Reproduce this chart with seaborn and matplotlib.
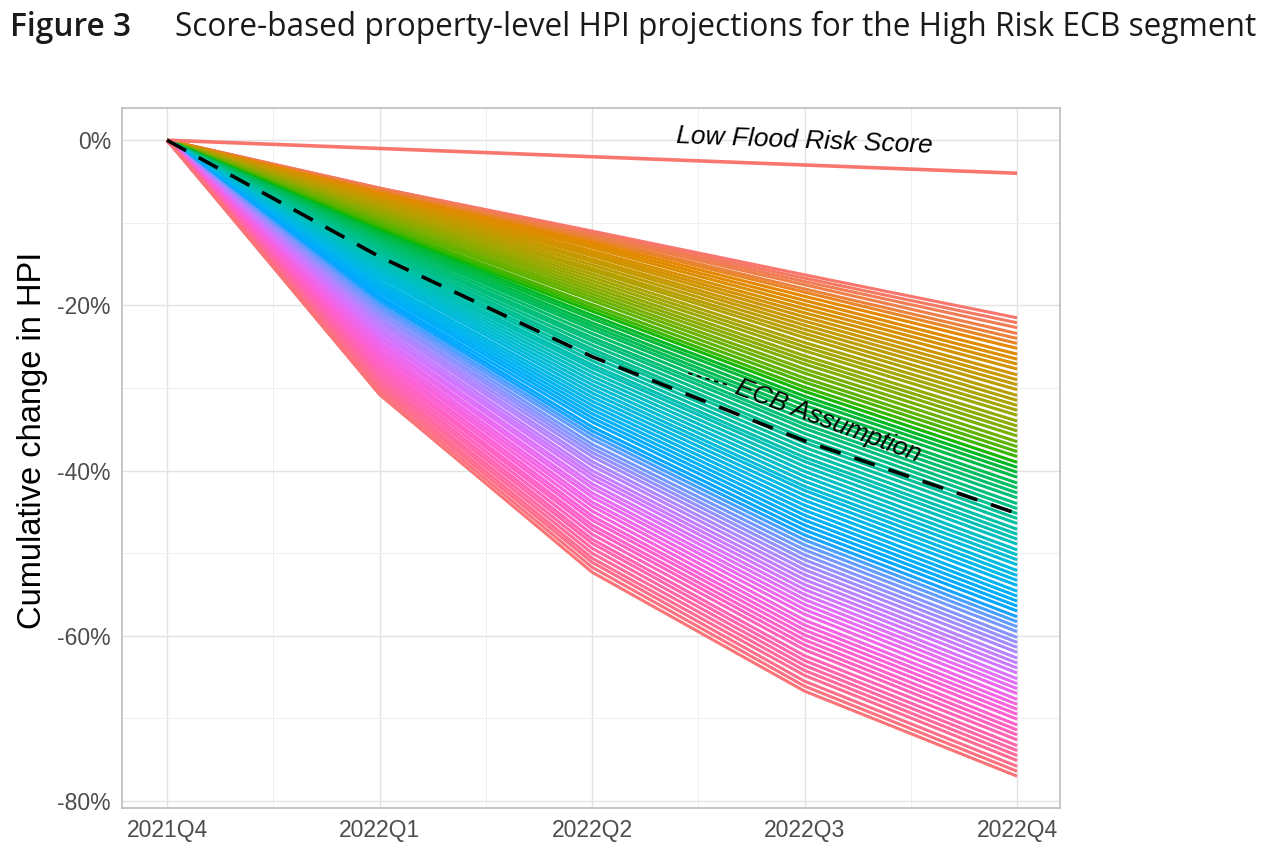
import numpy as np
import pandas as pd
import matplotlib
matplotlib.use("Agg")
import matplotlib.pyplot as plt
import seaborn as sns

# ---------------- data ----------------
quarters = ["2021Q4", "2022Q1", "2022Q2", "2022Q3", "2022Q4"]
y_ticks = [0, -20, -40, -60, -80]
y_tick_labels = ["0%", "-20%", "-40%", "-60%", "-80%"]

low_flood = [0.0, -1.0, -2.0, -3.0, -4.0]
ecb_assumption = [0.0, -14.1, -26.2, -36.4, -45.2]

# score-based projections (one value per score line, ordered from lowest to highest risk score)
q0_value = 0.0
q1_values = [-5.8, -5.8, -5.9, -6.0, -6.1, -6.2, -6.4, -6.5, -6.7, -6.8,
             -7.0, -7.1, -7.3, -7.5, -7.7, -7.9, -8.1, -8.3, -8.5, -8.7,
             -8.9, -9.1, -9.3, -9.6, -9.8, -10.0, -10.3, -10.5, -10.8, -11.0,
             -11.3, -11.5, -11.8, -12.0, -12.3, -12.6, -12.8, -13.1, -13.4, -13.7,
             -14.0, -14.2, -14.5, -14.8, -15.1, -15.4, -15.7, -16.0, -16.3, -16.6,
             -17.0, -17.3, -17.6, -17.9, -18.2, -18.5, -18.9, -19.2, -19.5, -19.9,
             -20.2, -20.5, -20.9, -21.2, -21.6, -21.9, -22.2, -22.6, -23.0, -23.3,
             -23.7, -24.0, -24.4, -24.7, -25.1, -25.5, -25.8, -26.2, -26.6, -27.0,
             -27.3, -27.7, -28.1, -28.5, -28.9, -29.2, -29.6, -30.0, -30.4, -30.8]
q2_values = [-11.0, -11.2, -11.4, -11.6, -11.9, -12.1, -12.4, -12.7, -13.0, -13.4,
             -13.7, -14.0, -14.4, -14.7, -15.1, -15.5, -15.8, -16.2, -16.6, -17.0,
             -17.4, -17.8, -18.2, -18.6, -19.0, -19.4, -19.9, -20.3, -20.7, -21.2,
             -21.6, -22.1, -22.5, -22.9, -23.4, -23.9, -24.3, -24.8, -25.3, -25.7,
             -26.2, -26.7, -27.2, -27.6, -28.1, -28.6, -29.1, -29.6, -30.1, -30.6,
             -31.1, -31.6, -32.1, -32.6, -33.1, -33.6, -34.1, -34.7, -35.2, -35.7,
             -36.2, -36.8, -37.3, -37.8, -38.3, -38.9, -39.4, -40.0, -40.5, -41.0,
             -41.6, -42.1, -42.7, -43.2, -43.8, -44.3, -44.9, -45.5, -46.0, -46.6,
             -47.1, -47.7, -48.3, -48.8, -49.4, -50.0, -50.6, -51.1, -51.7, -52.3]
q3_values = [-16.3, -16.7, -17.1, -17.5, -18.0, -18.4, -18.9, -19.4, -19.9, -20.4,
             -20.9, -21.4, -21.9, -22.4, -22.9, -23.4, -23.9, -24.5, -25.0, -25.5,
             -26.1, -26.6, -27.1, -27.7, -28.2, -28.8, -29.3, -29.9, -30.4, -31.0,
             -31.5, -32.1, -32.7, -33.2, -33.8, -34.4, -34.9, -35.5, -36.1, -36.6,
             -37.2, -37.8, -38.4, -38.9, -39.5, -40.1, -40.7, -41.3, -41.9, -42.4,
             -43.0, -43.6, -44.2, -44.8, -45.4, -46.0, -46.6, -47.2, -47.8, -48.4,
             -49.0, -49.6, -50.2, -50.8, -51.4, -52.0, -52.6, -53.2, -53.8, -54.4,
             -55.0, -55.6, -56.2, -56.8, -57.4, -58.1, -58.7, -59.3, -59.9, -60.5,
             -61.1, -61.7, -62.4, -63.0, -63.6, -64.2, -64.8, -65.5, -66.1, -66.7]
q4_values = [-21.5, -22.1, -22.7, -23.4, -24.0, -24.6, -25.2, -25.9, -26.5, -27.1,
             -27.7, -28.4, -29.0, -29.6, -30.2, -30.9, -31.5, -32.1, -32.7, -33.3,
             -34.0, -34.6, -35.2, -35.8, -36.5, -37.1, -37.7, -38.3, -39.0, -39.6,
             -40.2, -40.8, -41.5, -42.1, -42.7, -43.3, -44.0, -44.6, -45.2, -45.8,
             -46.4, -47.1, -47.7, -48.3, -48.9, -49.6, -50.2, -50.8, -51.4, -52.1,
             -52.7, -53.3, -53.9, -54.6, -55.2, -55.8, -56.4, -57.0, -57.7, -58.3,
             -58.9, -59.5, -60.2, -60.8, -61.4, -62.0, -62.7, -63.3, -63.9, -64.5,
             -65.2, -65.8, -66.4, -67.0, -67.7, -68.3, -68.9, -69.5, -70.1, -70.8,
             -71.4, -72.0, -72.6, -73.3, -73.9, -74.5, -75.1, -75.8, -76.4, -77.0]

# ---------------- colours: ggplot2 default hue palette (HCL, c=100, l=65) ----------------
def hcl_to_hex(h, c=100.0, l=65.0):
    hr = np.deg2rad(h)
    u, v = c * np.cos(hr), c * np.sin(hr)
    Xn, Yn, Zn = 95.047, 100.0, 108.883
    Y = Yn * ((l + 16) / 116) ** 3 if l > 8 else Yn * l / 903.3
    un = 4 * Xn / (Xn + 15 * Yn + 3 * Zn)
    vn = 9 * Yn / (Xn + 15 * Yn + 3 * Zn)
    up = u / (13 * l) + un
    vp = v / (13 * l) + vn
    X = 9 * Y * up / (4 * vp)
    Z = -X / 3 - 5 * Y + 3 * Y / vp
    X, Y, Z = X / 100, Y / 100, Z / 100
    r = 3.2404542 * X - 1.5371385 * Y - 0.4985314 * Z
    g = -0.9692660 * X + 1.8760108 * Y + 0.0415560 * Z
    b = 0.0556434 * X - 0.2040259 * Y + 1.0572252 * Z
    out = []
    for ch in (r, g, b):
        ch = 12.92 * ch if ch <= 0.0031308 else 1.055 * ch ** (1 / 2.4) - 0.055
        out.append(min(max(ch, 0.0), 1.0))
    return "#%02x%02x%02x" % tuple(int(round(x * 255)) for x in out)

n_lines = len(q4_values)
hues = np.linspace(15, 375, n_lines + 1)[:-1]
line_ids = [f"s{i:03d}" for i in range(n_lines)]
palette = {lid: hcl_to_hex(h) for lid, h in zip(line_ids, hues)}

rows = []
for i, lid in enumerate(line_ids):
    vals = [q0_value, q1_values[i], q2_values[i], q3_values[i], q4_values[i]]
    for q, v in enumerate(vals):
        rows.append({"q": q, "value": v, "line": lid})
df = pd.DataFrame(rows)
df_low = pd.DataFrame({"q": range(len(quarters)), "value": low_flood})
df_ecb = pd.DataFrame({"q": range(len(quarters)), "value": ecb_assumption})

# ---------------- figure ----------------
sns.set_theme(style="white")
plt.rcParams["font.family"] = ["Liberation Sans", "DejaVu Sans"]

fig = plt.figure(figsize=(12.8, 8.59), dpi=100)
ax = fig.add_axes([122 / 1280, 1 - 808 / 859, (1060 - 122) / 1280, (808 - 108) / 859])

sns.lineplot(data=df, x="q", y="value", hue="line", hue_order=line_ids, palette=palette,
             legend=False, linewidth=2.2, estimator=None, sort=False, ax=ax,
             solid_capstyle="butt", solid_joinstyle="round")
sns.lineplot(data=df_low, x="q", y="value", color="#F8766D", linewidth=2.6,
             estimator=None, sort=False, ax=ax, solid_capstyle="butt")
sns.lineplot(data=df_ecb, x="q", y="value", color="black", linewidth=2.6,
             linestyle=(0, (6, 4)), estimator=None, sort=False, ax=ax)

# annotations
ax.text(3.0, -0.1, "Low Flood Risk Score", fontsize=19, style="italic",
        rotation=-2.2, ha="center", va="center", color="black", rotation_mode="anchor")
ax.text(3.11, -34.0, "ECB Assumption", fontsize=18.8, style="italic",
        rotation=-20.5, ha="center", va="center", color="black", rotation_mode="anchor")
ax.plot([2.452, 2.635], [-28.2, -29.6], color="black", linewidth=1.3, linestyle=(0, (2.5, 2.5)))

# axes styling (ggplot theme_light look)
ax.set_xlim(-0.212, 4.202)
ax.set_ylim(-80.85, 3.9)
ax.set_xticks(range(len(quarters)))
ax.set_xticklabels(quarters)
ax.set_yticks(y_ticks)
ax.set_yticklabels(y_tick_labels)
ax.set_xticks([0.5, 1.5, 2.5, 3.5], minor=True)
ax.set_yticks([-10, -30, -50, -70], minor=True)
ax.grid(which="major", color="#E3E3E3", linewidth=1.0)
ax.grid(which="minor", color="#EFEFEF", linewidth=0.7)
ax.set_axisbelow(True)
for sp in ax.spines.values():
    sp.set_color("#BDBDBD")
    sp.set_linewidth(1.2)
ax.tick_params(axis="both", which="major", colors="#BDBDBD", length=4, width=1.0,
               labelcolor="#4D4D4D", labelsize=16.5, pad=4)
ax.tick_params(axis="both", which="minor", length=0)
ax.set_xlabel("")
ax.set_ylabel("Cumulative change in HPI", fontsize=23.5, color="black")
ax.yaxis.set_label_coords(-(122 - 48) / (1060 - 122), (808 - 440) / 700)

# title
fig.text(10 / 1280, 1 - 27 / 859, "Figure 3", fontsize=22.8, fontweight="semibold",
         family=["Open Sans", "DejaVu Sans"], ha="left", va="center", color="#1a1a1a")
fig.text(175 / 1280, 1 - 27 / 859,
         "Score-based property-level HPI projections for the High Risk ECB segment",
         fontsize=22.8, family=["Open Sans", "DejaVu Sans"], ha="left", va="center", color="#1a1a1a")

fig.savefig("out.png", dpi=100, facecolor="white")
